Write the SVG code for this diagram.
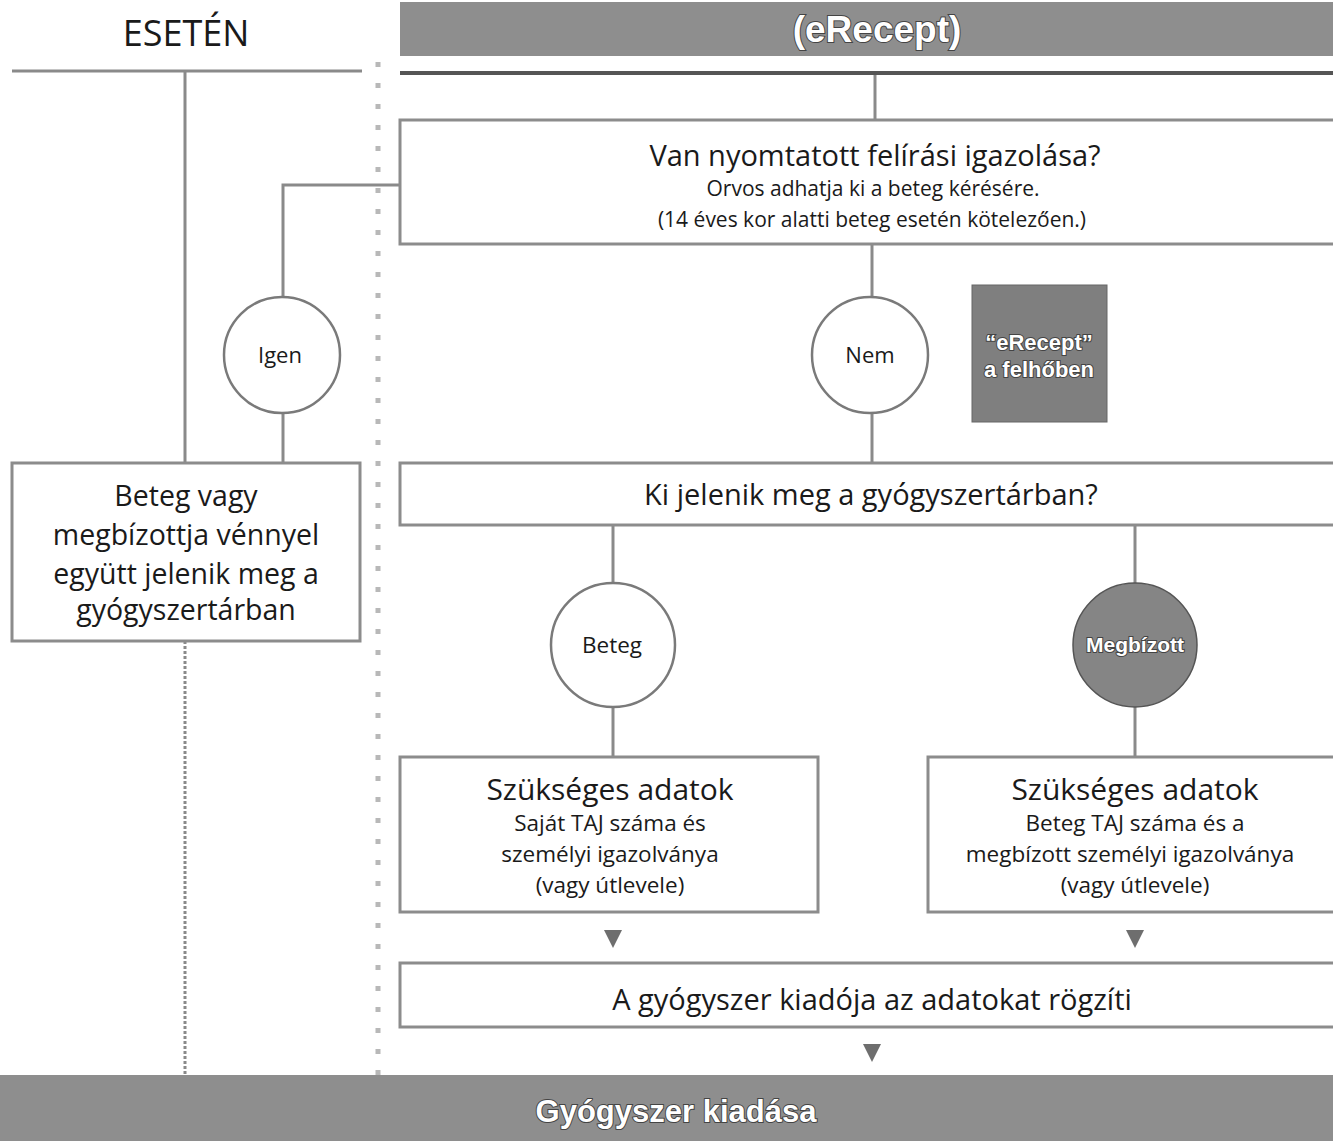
<svg xmlns="http://www.w3.org/2000/svg" width="1333" height="1141" viewBox="0 0 1333 1141">
<style>
.bg{fill:#ffffff}
.box{fill:#ffffff;stroke:#8c8c8c;stroke-width:3}
.bar{fill:#8e8e8e}
.ln{stroke:#8a8a8a;stroke-width:3;fill:none}
.dot{stroke:#b8b8b8;stroke-width:5;fill:none;stroke-dasharray:5 16}
.t{font-family:"Open Sans","Noto Sans","Liberation Sans",sans-serif;fill:#1a1a1a;text-anchor:middle}
.w{font-family:"Liberation Sans",Arial,sans-serif;font-weight:bold;fill:#ffffff;stroke:#444;stroke-width:2;paint-order:stroke;text-anchor:middle}
.circ{fill:#ffffff;stroke:#7a7a7a;stroke-width:2.5}
.tri{fill:#6e6e6e}
</style>
<rect class="bg" x="0" y="0" width="1333" height="1141"/>

<g id="connectors">
  <line class="ln" x1="12" y1="71" x2="362" y2="71"/>
  <line x1="400" y1="73" x2="1333" y2="73" stroke="#555" stroke-width="4"/>
  <line class="ln" x1="875" y1="75" x2="875" y2="120"/>
  <line class="ln" x1="185" y1="71" x2="185" y2="463"/>
  <line class="ln" x1="185" y1="641" x2="185" y2="1075" stroke="#aaa" stroke-dasharray="3 2"/>
  <polyline class="ln" points="400,185 283,185 283,297"/>
  <line class="ln" x1="283" y1="413" x2="283" y2="463"/>
  <line class="ln" x1="872" y1="244" x2="872" y2="297"/>
  <line class="ln" x1="872" y1="413" x2="872" y2="463"/>
  <line class="ln" x1="613" y1="525" x2="613" y2="583"/>
  <line class="ln" x1="613" y1="707" x2="613" y2="757"/>
  <line class="ln" x1="1135" y1="525" x2="1135" y2="583"/>
  <line class="ln" x1="1135" y1="707" x2="1135" y2="757"/>
  <line class="dot" x1="378" y1="62" x2="378" y2="1075"/>
  <polygon class="tri" points="604,930 622,930 613,948"/>
  <polygon class="tri" points="1126,930 1144,930 1135,948"/>
  <polygon class="tri" points="863,1044 881,1044 872,1062"/>
</g>

<g id="title-left">
  <text class="t" x="186" y="46" font-size="36">ESETÉN</text>
</g>

<g id="header">
  <rect class="bar" x="400" y="2" width="940" height="54"/>
  <text class="w" x="877" y="42" font-size="37">(eRecept)</text>
</g>

<g id="q1">
  <rect class="box" x="400" y="120" width="940" height="124"/>
  <text class="t" x="875" y="166" font-size="29">Van nyomtatott felírási igazolása?</text>
  <text class="t" x="873" y="196" font-size="21">Orvos adhatja ki a beteg kérésére.</text>
  <text class="t" x="872" y="227" font-size="21">(14 éves kor alatti beteg esetén kötelezően.)</text>
</g>

<g id="igen">
  <circle class="circ" cx="282" cy="355" r="58"/>
  <text class="t" x="280" y="363" font-size="22">Igen</text>
</g>

<g id="nem">
  <circle class="circ" cx="870" cy="355" r="58"/>
  <text class="t" x="870" y="363" font-size="22">Nem</text>
</g>

<g id="cloud">
  <rect x="972" y="285" width="135" height="137" fill="#7f7f7f" stroke="#666" stroke-width="1"/>
  <text class="w" x="1039" y="350" font-size="22">“eRecept”</text>
  <text class="w" x="1039" y="377" font-size="22">a felhőben</text>
</g>

<g id="left-box">
  <rect class="box" x="12" y="463" width="348" height="178" stroke="#a0a0a0"/>
  <text class="t" x="186" y="506" font-size="28.5">Beteg vagy</text>
  <text class="t" x="186" y="545" font-size="28.5">megbízottja vénnyel</text>
  <text class="t" x="186" y="584" font-size="28.5">együtt jelenik meg a</text>
  <text class="t" x="186" y="620" font-size="28.5">gyógyszertárban</text>
</g>

<g id="q2">
  <rect class="box" x="400" y="463" width="940" height="62"/>
  <text class="t" x="871" y="505" font-size="29">Ki jelenik meg a gyógyszertárban?</text>
</g>

<g id="beteg">
  <circle class="circ" cx="613" cy="645" r="62"/>
  <text class="t" x="612" y="653" font-size="22.5">Beteg</text>
</g>

<g id="megbizott">
  <circle cx="1135" cy="645" r="62" fill="#858585" stroke="#555" stroke-width="1.5"/>
  <text class="w" x="1135" y="652" font-size="21">Megbízott</text>
</g>

<g id="data-beteg">
  <rect class="box" x="400" y="757" width="418" height="155"/>
  <text class="t" x="610" y="800" font-size="30">Szükséges adatok</text>
  <text class="t" x="610" y="831" font-size="22.5">Saját TAJ száma és</text>
  <text class="t" x="610" y="862" font-size="22.5">személyi igazolványa</text>
  <text class="t" x="610" y="893" font-size="22.5">(vagy útlevele)</text>
</g>

<g id="data-megbizott">
  <rect class="box" x="928" y="757" width="412" height="155"/>
  <text class="t" x="1135" y="800" font-size="30">Szükséges adatok</text>
  <text class="t" x="1135" y="831" font-size="22.5">Beteg TAJ száma és a</text>
  <text class="t" x="1130" y="862" font-size="22.5">megbízott személyi igazolványa</text>
  <text class="t" x="1135" y="893" font-size="22.5">(vagy útlevele)</text>
</g>

<g id="record">
  <rect class="box" x="400" y="963" width="940" height="64"/>
  <text class="t" x="872" y="1010" font-size="29">A gyógyszer kiadója az adatokat rögzíti</text>
</g>

<g id="dispense">
  <rect class="bar" x="0" y="1075" width="1333" height="66"/>
  <text class="w" x="676" y="1122" font-size="31">Gyógyszer kiadása</text>
</g>
</svg>
